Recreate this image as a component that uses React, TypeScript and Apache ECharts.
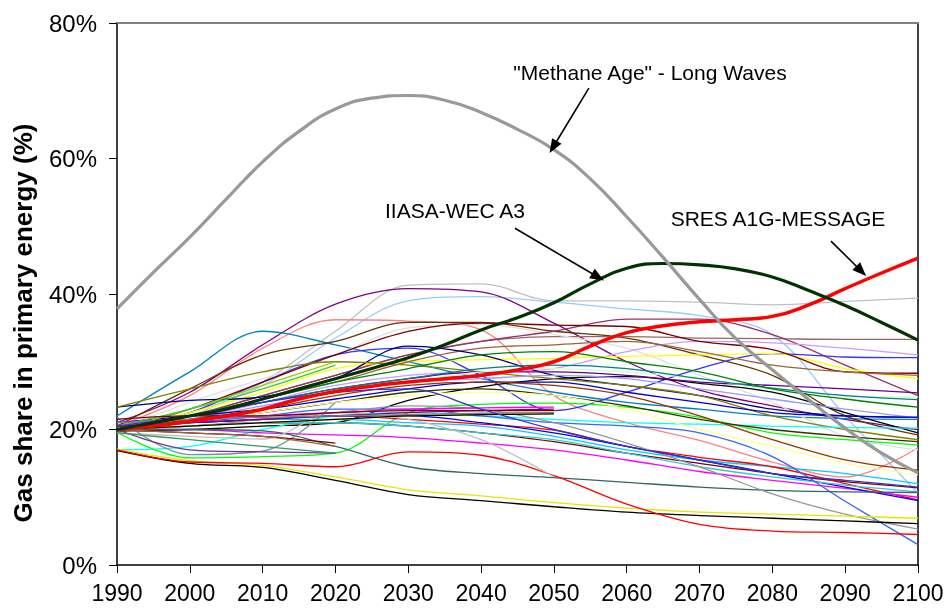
import React, { useEffect, useRef } from "react";
import * as echarts from "echarts";

const YEARS10 = [1990, 2000, 2010, 2020, 2030, 2040, 2050, 2060, 2070, 2080, 2090, 2100];
const YEARS5 = [1990, 1995, 2000, 2005, 2010, 2015, 2020, 2025, 2030, 2035, 2040, 2045, 2050, 2055, 2060, 2065, 2070, 2075, 2080, 2085, 2090, 2095, 2100];

const METHANE_AGE = [37.8, 43.2, 48.4, 54, 59.5, 64, 67.3, 68.9, 69.3, 68.6, 66.8, 64.3, 61.3, 57, 51.4, 45.4, 39.2, 33.4, 28.8, 24.4, 20.2, 16.5, 13.6];
const IIASA_A3 = [20, 21, 22, 23, 24.5, 26, 27.5, 29, 30.6, 32.5, 34.7, 36.5, 38.7, 41.5, 43.8, 44.5, 44.3, 43.7, 42.5, 40.5, 38.3, 35.8, 33.2];
const SRES_A1G = [20, 20.5, 21.2, 22, 23, 24.5, 25.6, 26.4, 27, 27.5, 28, 28.8, 30, 32.3, 34.3, 35.3, 35.9, 36.2, 36.7, 38.4, 40.8, 43.1, 45.3];

const L01 = [20, 22, 27, 34.5, 41.3, 41.5, 39, 39, 38.8, 38.4, 38.9, 39.4];
const L02 = [20.5, 22.5, 26.5, 33.5, 39, 39.6, 38.8, 37.8, 36.8, 34, 22, 10.6];
const L03 = [21, 25.5, 32.5, 38.5, 40.8, 40.3, 35.7, 30, 25.8, 23.5, 21.5, 20];
const L04 = [20.5, 25, 32, 36.2, 36, 34.7, 25, 21, 18.4, 15.2, 13, 17.3];
const L05 = [22, 28.5, 34.5, 32.5, 30, 27.5, 25.5, 24, 23, 22, 21.6, 21.5];
const L06 = [20.5, 26, 31, 33, 35.8, 35.8, 34.5, 33.5, 31, 28, 22, 19.2];
const L07 = [19.5, 22, 25, 28, 31, 33, 33.7, 33.7, 33.5, 33.4, 33.3, 33.3];
const L08 = [20, 24, 27.5, 31, 35, 35.5, 34, 32, 28, 24, 19, 17];
const L09 = [20, 22, 25, 28, 31, 33, 34.5, 36.3, 36.3, 34, 29.5, 25];
const L10 = [20, 21.5, 24, 26.5, 28, 28.5, 29, 31.5, 33, 32.8, 32, 31];
const L11 = [20, 22.5, 27, 31, 32, 28, 22.8, 25.5, 29, 31.2, 30.7, 30.6];
const L12 = [20, 22.5, 25.5, 29, 30, 30.3, 30.5, 30.8, 31, 31.2, 29, 27.5];
const L13 = [20, 23, 27, 31, 34.5, 35.7, 35.4, 35.2, 33, 31.8, 28.5, 28.3];
const L14 = [20, 22, 24.5, 27, 30, 32, 32.5, 33, 31.5, 29.5, 28.5, 28];
const L15 = [23.3, 24.3, 24.8, 27.5, 32.3, 31, 28, 26.5, 25, 23, 22, 21.8];
const L16 = [19.8, 20, 20.5, 21, 24.3, 26.3, 27.5, 27.8, 26.8, 25.5, 22.5, 19.5];
const L17 = [23.3, 26, 28.5, 30, 29.5, 28.5, 27.5, 26.5, 25, 22, 20, 18.5];
const L18 = [20, 22, 24, 26, 27.5, 28.5, 28.5, 28, 27, 26.5, 26, 25.4];
const L19 = [20, 21.5, 23.5, 25.5, 27, 28.5, 29, 28.5, 27.5, 26, 25, 24.8];
const L20 = [20.5, 22, 24, 26, 27.5, 29, 29.5, 29, 27.5, 26.1, 25, 24.4];
const L21 = [20, 22, 24.5, 27, 29, 31, 31.5, 30, 28.5, 26, 24.5, 23.3];
const L22 = [20, 21.5, 23.5, 25.5, 27, 27.5, 28, 27.5, 26, 24.5, 23, 21.7];
const L23 = [21, 22, 23, 24.5, 26, 27, 27, 25.5, 24, 22.5, 22, 21.8];
const L24 = [17, 17.5, 20, 22, 22.5, 22, 21.5, 21, 20.8, 20.5, 20.3, 20.2];
const L25 = [19.6, 15.8, 16, 16.5, 22.5, 23.7, 23.9, 23.3, 21.8, 19.5, 18.5, 17.7];
const L26 = [20, 21, 22.5, 24, 25.5, 26, 25, 23.5, 21.5, 20, 19, 18.2];
const L27 = [20, 21.5, 23, 25, 26.5, 27, 26.5, 25, 22, 18.5, 15.5, 14];
const L28 = [20, 21, 22.5, 24, 25, 25.5, 25, 23, 20, 17.5, 15, 13.3];
const L29 = [20.5, 21, 21.5, 21.5, 21, 20.5, 19, 17, 15.5, 14.5, 13.5, 12];
const L30 = [20, 20.5, 21, 21, 20.5, 19.5, 18.2, 16.5, 15, 13.5, 12.3, 11.4];
const L31 = [20.5, 21, 21.5, 22, 21.5, 20.8, 19.9, 17.5, 15.9, 14.5, 12, 9.6];
const L32 = [20, 20, 19.5, 19.2, 18.8, 18, 17, 15.5, 13.8, 12.5, 11.3, 10];
const L33 = [20.5, 21, 21.5, 22, 22, 21, 19.5, 17.5, 15.5, 13.5, 11.5, 9.5];
const L34 = [20, 20.5, 21, 21, 20.5, 19.5, 18.5, 16.5, 14.5, 13, 11.8, 10.8];
const L35 = [20, 21, 22, 23, 23, 22, 21, 20.5, 19.5, 16, 9.4, 3];
const L36 = [20, 20, 19.8, 17.5, 14.5, 13.5, 12.9, 12.2, 11.5, 11, 10.8, 10.7];
const L37 = [20, 20.5, 21.5, 22.5, 23.5, 23, 21, 18, 14.5, 10.5, 7.5, 5.3];
const L38 = [16.9, 15, 14.4, 12.5, 10.4, 9.5, 8.6, 7.8, 7.3, 6.9, 6.5, 6.1];
const L39 = [17.1, 15.4, 14.7, 13, 11.1, 10.2, 9.2, 8.4, 7.8, 7.5, 7.2, 6.9];
const L40 = [17, 15.2, 15, 14.5, 16.7, 16.2, 13.2, 9, 6, 5, 4.8, 4.5];
const L41 = [19.5, 19, 18.6, 22.5, 21.5, 18.5, 13];
const L42 = [21.8, 16.3, 16.8, 24];
const L43 = [20, 17, 16.7, 16.5];
const L44 = [20, 19.5, 19, 18];
const L45 = [19.5, 18.5, 17.5, 16.5];
const L46 = [20, 23, 26.5, 30];
const L47 = [20.5, 23, 26, 29.5];
const L48 = [21, 21.5, 22, 22.5, 23, 23.2, 23.3];
const L49 = [20.5, 21, 21.5, 22, 22.5, 22.8, 23];
const L50 = [21.5, 22, 22, 22.5, 22.8, 22.8, 22.8];
const L51 = [20, 20.5, 21, 21.5, 22, 22.3, 22.6];
const L52 = [21, 21.5, 21.8, 22, 22.2, 22.4, 22.5];
const L53 = [20, 20.5, 21, 21.5, 22, 22.2, 22.3];
const L54 = [20.5, 22, 24, 25.5, 26, 23, 20, 17.5, 15.5, 13.5, 12.5, 11.5];
const L55 = [20, 19.5, 19, 17.5];

const THIN_LINES = [L01, L02, L03, L04, L05, L06, L07, L08, L09, L10, L11, L12, L13, L14, L15, L16, L17, L18, L19, L20, L21, L22, L23, L24, L25, L26, L27, L28, L29, L30, L31, L32, L33, L34, L35, L36, L37, L38, L39, L40, L41, L42, L43, L44, L45, L46, L47, L48, L49, L50, L51, L52, L53, L54, L55];
const THIN_COLORS = [
  "#c0c0c0", "#99ccff", "#800080", "#ff8080", "#0080c0", "#663300", "#996666", "#e0e0e0", "#993366", "#cc99ff",
  "#3333ff", "#ffff00", "#800000", "#996633", "#000080", "#000000", "#808000", "#660099", "#ccffcc", "#008080",
  "#008000", "#9999ff", "#0000cc", "#00ffff", "#00ff00", "#333300", "#993300", "#ffff99", "#00ccff", "#800000",
  "#ff0000", "#ff00ff", "#0000ff", "#33cccc", "#3366ff", "#336666", "#969696", "#000000", "#e6e600", "#ff0000",
  "#c0c0c0", "#669999", "#7030a0", "#800000", "#339966", "#99cc00", "#33cc33", "#ff00ff", "#800080", "#800000",
  "#ffff00", "#808080", "#000000", "#3333cc", "#996633",
];

const Y_TICKS = [0, 20, 40, 60, 80];
const Y_TITLE = "Gas share in primary energy (%)";

const FONT = '"Liberation Sans", Arial, Helvetica, sans-serif';

const ANNOTATIONS = [
  { text: '"Methane Age" - Long Waves', x: 650, y: 72 },
  { text: "IIASA-WEC A3", x: 455, y: 210 },
  { text: "SRES A1G-MESSAGE", x: 778, y: 218 },
];
const ARROWS = [
  [[2054.8, 70.4], [2049.9, 61.7]],
  [[2044.65, 49.7], [2056.05, 42.5]],
  [[2088.05, 47.8], [2092.2, 43.4]],
];

export default function App() {
  const ref = useRef<HTMLDivElement>(null);
  useEffect(() => {
    if (!ref.current) return;
    const chart = echarts.init(ref.current, undefined, { renderer: "svg" });
    const thinSeries = THIN_LINES.map((vals, i) => ({
      type: "line",
      data: vals.map((v, j) => [YEARS10[j], v]),
      showSymbol: false,
      smooth: 0.35,
      lineStyle: { color: THIN_COLORS[i], width: 1.3 },
      silent: true,
      z: 2,
    }));
    const thick = (vals: number[], color: string, width: number, extra: any = {}) => ({
      type: "line",
      data: vals.map((v, j) => [YEARS5[j], v]),
      showSymbol: false,
      smooth: 0.5,
      lineStyle: { color, width },
      silent: true,
      z: 4,
      ...extra,
    });
    chart.setOption({
      animation: false,
      grid: { left: 117, right: 30, top: 23, bottom: 44, containLabel: false },
      xAxis: [
        {
          type: "value",
          min: 1990,
          max: 2100,
          interval: 10,
          axisLine: { show: true, lineStyle: { color: "#000", width: 1.5 } },
          axisTick: { show: true, length: 8, lineStyle: { color: "#000", width: 1 } },
          axisLabel: { color: "#000", fontSize: 23, fontFamily: FONT, margin: 16, formatter: (v: number) => String(v) },
          splitLine: { show: false },
        },
        {
          type: "value",
          position: "top",
          min: 1990,
          max: 2100,
          axisLine: { show: true, onZero: false, lineStyle: { color: "#808080", width: 2 } },
          axisTick: { show: false },
          axisLabel: { show: false },
          splitLine: { show: false },
        },
      ],
      yAxis: [
        {
          type: "value",
          min: 0,
          max: 80,
          interval: 20,
          axisLine: { show: true, onZero: false, lineStyle: { color: "#000", width: 1.5 } },
          axisTick: { show: true, length: 8, lineStyle: { color: "#000", width: 1 } },
          axisLabel: { color: "#000", fontSize: 24, fontFamily: FONT, margin: 20, formatter: (v: number) => (Y_TICKS.includes(v) ? v + "%" : "") },
          splitLine: { show: false },
        },
        {
          type: "value",
          position: "right",
          min: 0,
          max: 80,
          axisLine: { show: true, onZero: false, lineStyle: { color: "#000", width: 1.5 } },
          axisTick: { show: false },
          axisLabel: { show: false },
          splitLine: { show: false },
        },
      ],
      series: [
        ...thinSeries,
        thick(SRES_A1G, "#ff0000", 3.5),
        thick(IIASA_A3, "#003300", 3.2),
        thick(METHANE_AGE, "#999999", 3.2, {
          markLine: {
            silent: true,
            symbol: ["none", "triangle"],
            symbolSize: [11, 14],
            lineStyle: { color: "#000", width: 1.6, type: "solid" },
            label: { show: false },
            data: ARROWS.map(([a, b]) => [{ coord: a }, { coord: b }]),
          },
        }),
      ],
      graphic: [
        ...ANNOTATIONS.map((a) => ({
          type: "text",
          x: a.x,
          y: a.y,
          silent: true,
          style: {
            text: a.text,
            fill: "#000",
            font: `21px ${FONT}`,
            textAlign: "center",
            textVerticalAlign: "middle",
          },
        })),
        {
          type: "text",
          x: 23,
          y: 323,
          rotation: Math.PI / 2,
          silent: true,
          style: {
            text: Y_TITLE,
            fill: "#000",
            font: `bold 26px ${FONT}`,
            textAlign: "center",
            textVerticalAlign: "middle",
          },
        },
      ],
    });
    return () => chart.dispose();
  }, []);
  return <div ref={ref} style={{ position: "fixed", left: 0, top: 0, width: 948, height: 609 }} />;
}
